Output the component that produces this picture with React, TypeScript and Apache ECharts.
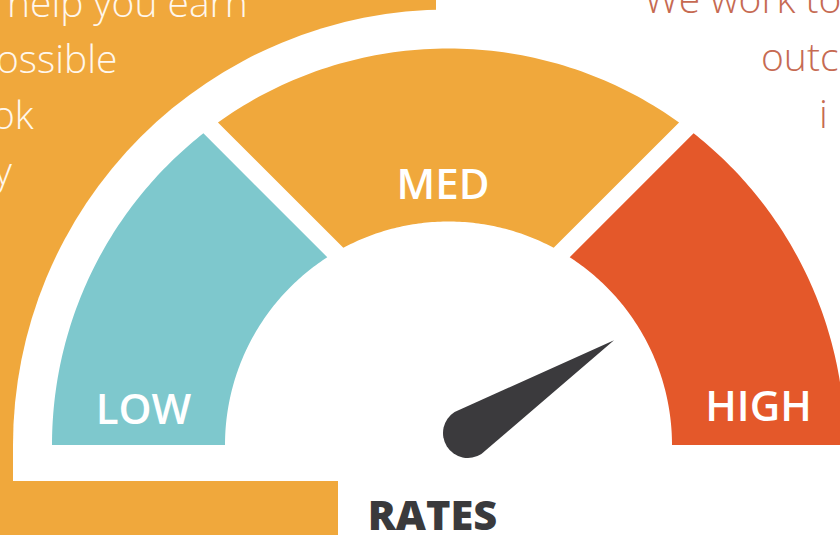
import React, { useEffect, useRef } from "react";
import * as echarts from "echarts";

// ---- data ----
const bandNames = ["LOW", "MED", "HIGH"];
const bandStart = [0, 25, 75];
const bandEnd = [25, 75, 100];
const bandColors = ["#7ec8cd", "#f0a83c", "#e4582a"];
const needleValue = [82];
const gaugeTitle = "RATES";
const leftNoteLines = ["help you earn", "ossible", "ok", "y"];
const rightNoteLines = ["We work to", "outc", "i"];

// ---- layout ----
const MIN = 0;
const MAX = 100;
const START_ANGLE = 180;
const END_ANGLE = 0;
const CX = 448.5;
const CY = 445;
const R_OUT = 396.5;
const R_IN = 223.5;
const PIVOT_DY = 79.3; // gap lines converge above the arc centre
const HALF_GAP = 9;

function valueToAngle(v: number) {
  return ((START_ANGLE + ((END_ANGLE - START_ANGLE) * (v - MIN)) / (MAX - MIN)) * Math.PI) / 180;
}

// angle (math, radians) where an offset gap edge meets a circle of radius R
function edgeAngle(v: number, side: number, R: number) {
  const phi = valueToAngle(v);
  const u = [Math.cos(phi), Math.sin(phi)];
  const n = [-Math.sin(phi), Math.cos(phi)];
  const q = [n[0] * HALF_GAP * side, PIVOT_DY + n[1] * HALF_GAP * side];
  const qu = q[0] * u[0] + q[1] * u[1];
  const qq = q[0] * q[0] + q[1] * q[1];
  const t = -qu + Math.sqrt(qu * qu - qq + R * R);
  return Math.atan2(q[1] + t * u[1], q[0] + t * u[0]);
}

function bandPolygon(start: number, end: number) {
  const a0o = start <= MIN ? Math.PI : edgeAngle(start, -1, R_OUT);
  const a0i = start <= MIN ? Math.PI : edgeAngle(start, -1, R_IN);
  const a1o = end >= MAX ? 0 : edgeAngle(end, 1, R_OUT);
  const a1i = end >= MAX ? 0 : edgeAngle(end, 1, R_IN);
  const pts: number[][] = [];
  const N = 80;
  for (let k = 0; k <= N; k++) {
    const a = a0o + ((a1o - a0o) * k) / N;
    pts.push([CX + R_OUT * Math.cos(a), CY - R_OUT * Math.sin(a)]);
  }
  for (let k = 0; k <= N; k++) {
    const a = a1i + ((a0i - a1i) * k) / N;
    pts.push([CX + R_IN * Math.cos(a), CY - R_IN * Math.sin(a)]);
  }
  return pts;
}

const FONT = '"Open Sans", "Noto Sans", sans-serif';

function txt(text: string, x: number, y: number, size: number, weight: any, fill: string, align: string, z = 100) {
  return {
    type: "text",
    x,
    y,
    z,
    silent: true,
    style: {
      text,
      fill,
      fontSize: size,
      fontWeight: weight,
      fontFamily: FONT,
      align,
      verticalAlign: "middle",
      textAlign: align,
      textVerticalAlign: "middle",
    },
  };
}

const leftX = [7, -4, -8, -6];
const leftY = [1.6, 57.6, 113.6, 169.6];
const rightX = [644, 761, 819];
const rightY = [-2.4, 55.6, 112.6];
const labelPos = [
  [143.5, 407.5],
  [443, 182.5],
  [758.5, 404.5],
];

export default function App() {
  const ref = useRef<HTMLDivElement>(null);
  useEffect(() => {
    const chart = echarts.init(ref.current!, null, { renderer: "svg" });
    const graphics: any[] = [
      { type: "rect", z: 0, silent: true, shape: { x: 0, y: 0, width: 436, height: 535 }, style: { fill: "#f0a83c" } },
      {
        type: "sector",
        z: 0,
        silent: true,
        shape: { cx: CX, cy: CY, r: 435.5, r0: 0, startAngle: Math.PI, endAngle: Math.PI * 2, clockwise: true },
        style: { fill: "#ffffff" },
      },
      { type: "rect", z: 0, silent: true, shape: { x: 13, y: 444, width: 827, height: 37 }, style: { fill: "#ffffff" } },
      { type: "rect", z: 0, silent: true, shape: { x: 338, y: 480, width: 502, height: 55 }, style: { fill: "#ffffff" } },
    ];
    leftNoteLines.forEach((t, i) => graphics.push(txt(t, leftX[i], leftY[i], 39, 300, "#fff7ec", "left", 1)));
    rightNoteLines.forEach((t, i) => graphics.push(txt(t, rightX[i], rightY[i], 39, 300, "#c66a52", "left", 1)));
    bandNames.forEach((t, i) => graphics.push(txt(t, labelPos[i][0], labelPos[i][1], 42, 600, "#ffffff", "center")));
    graphics.push(txt(gaugeTitle, 432.5, 513.5, 41.5, 800, "#3a3a3c", "center"));

    chart.setOption({
      animation: false,
      backgroundColor: "#ffffff",
      graphic: { elements: graphics },
      series: [
        {
          type: "custom",
          coordinateSystem: "none",
          silent: true,
          z: 2,
          data: bandStart.map((s, i) => [s, bandEnd[i]]),
          renderItem: (params: any, api: any) => ({
            type: "polygon",
            shape: { points: bandPolygon(api.value(0), api.value(1)) },
            style: { fill: bandColors[params.dataIndex] },
          }),
        },
        {
          type: "gauge",
          z: 5,
          center: [468, 433],
          radius: 200,
          startAngle: START_ANGLE,
          endAngle: END_ANGLE,
          min: MIN,
          max: MAX,
          silent: true,
          progress: { show: false },
          axisLine: { show: false },
          splitLine: { show: false },
          axisTick: { show: false },
          axisLabel: { show: false },
          anchor: { show: false },
          title: { show: false },
          detail: { show: false },
          pointer: {
            show: true,
            icon: "path://M25 0 L50 173 A25 25 0 0 1 0 173 Z",
            length: 198,
            width: 50,
            offsetCenter: [0, 25],
            keepAspect: false,
            itemStyle: { color: "#3b3a3d" },
          },
          data: needleValue.map((v) => ({ value: v })),
        },
      ],
    });
    return () => chart.dispose();
  }, []);
  return <div ref={ref} style={{ position: "fixed", left: 0, top: 0, width: 840, height: 535 }} />;
}
